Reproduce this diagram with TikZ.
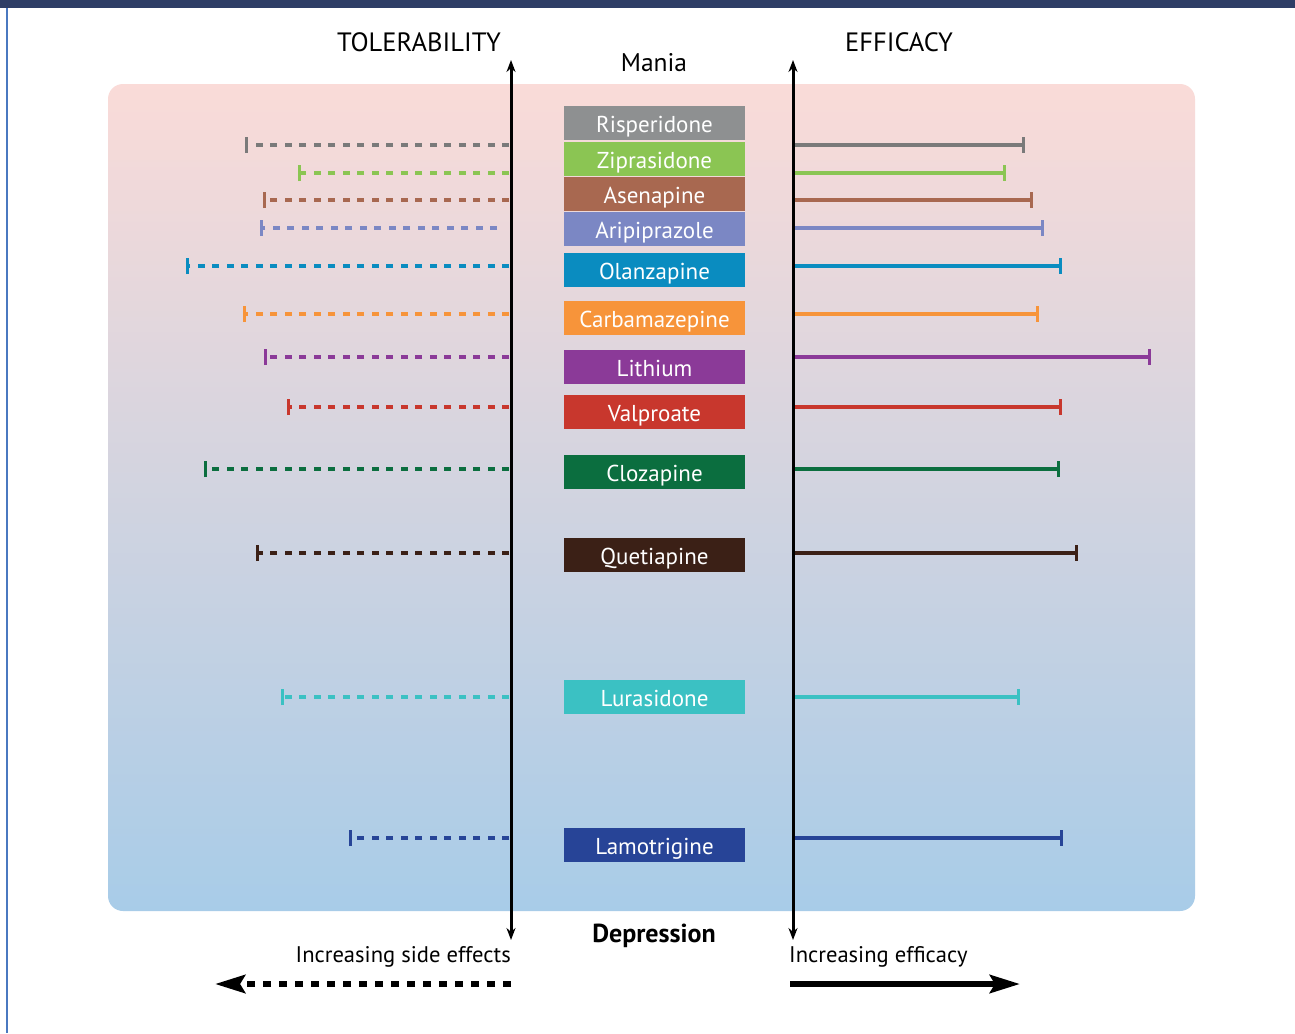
\documentclass[tikz,border=0pt]{standalone}
\usepackage{fontspec}
\setmainfont{PT Sans}
\usetikzlibrary{arrows.meta}
\definecolor{navy}{HTML}{2E3E66}
\definecolor{frameblue}{HTML}{4A78C0}
\definecolor{bgtop}{HTML}{FADBD8}
\definecolor{bgbot}{HTML}{A8CCE8}
\definecolor{cRisp}{HTML}{8E9091}
\definecolor{lRisp}{HTML}{7A7A7A}
\definecolor{cZipr}{HTML}{8BC553}
\definecolor{cAsen}{HTML}{A86850}
\definecolor{cArip}{HTML}{7B87C4}
\definecolor{cOlan}{HTML}{0A8CC0}
\definecolor{cCarb}{HTML}{F7943A}
\definecolor{cLith}{HTML}{8B3A98}
\definecolor{cValp}{HTML}{C8372D}
\definecolor{cCloz}{HTML}{0B6E3F}
\definecolor{cQuet}{HTML}{3B2016}
\definecolor{cLura}{HTML}{3BC1C3}
\definecolor{cLamo}{HTML}{274497}
\begin{document}
\begin{tikzpicture}[x=1pt,y=-1pt,
  drug/.style={minimum width=181pt, minimum height=34pt, inner sep=0pt, text height=22pt, text depth=4pt, text=white, font=\fontsize{23}{23}\selectfont},
  tol/.style={line width=3.5pt, dash pattern=on 7pt off 7.5pt, -{Bar[width=16pt,line width=3pt]}},
  eff/.style={line width=3.5pt, -{Bar[width=16pt,line width=3pt]}},
  axisline/.style={line width=3pt, {Stealth[length=12pt,width=9pt]}-{Stealth[length=12pt,width=9pt]}},
  head/.style={font=\fontsize{26.5}{26.5}\selectfont},
  note/.style={font=\fontsize{22.6}{22.6}\selectfont}]
\useasboundingbox (0,0) rectangle (1295,1033);
\fill[white] (0,0) rectangle (1295,1033);
\fill[navy] (0,0) rectangle (1295,8);
\draw[frameblue, line width=2pt] (7,8) -- (7,1033);
\shade[top color=bgtop, bottom color=bgbot, rounded corners=15pt] (108,84) rectangle (1195,911);

% axes
\coordinate (tolTop) at (511,60);
\coordinate (tolBot) at (511,940);
\coordinate (effTop) at (793,60);
\coordinate (effBot) at (793,940);
\draw[axisline] (tolTop) -- (tolBot);
\draw[axisline] (effTop) -- (effBot);

% titles
\node[head] (tolerability) at (419,42) {TOLERABILITY};
\node[head] (efficacy) at (899,42) {EFFICACY};
\node[head, font=\fontsize{25.5}{25.5}\selectfont] (mania) at (654,63) {Mania};
\node[head, font=\fontsize{26}{26}\selectfont\bfseries] (depression) at (654,936) {Depression};

% drug boxes
\node[drug, fill=cRisp] (risp) at (654.5,123) {Risperidone};
\node[drug, fill=cZipr] (zipr) at (654.5,159) {Ziprasidone};
\node[drug, fill=cAsen] (asen) at (654.5,194) {Asenapine};
\node[drug, fill=cArip] (arip) at (654.5,229) {Aripiprazole};
\node[drug, fill=cOlan] (olan) at (654.5,270) {Olanzapine};
\node[drug, fill=cCarb] (carb) at (654.5,318) {Carbamazepine};
\node[drug, fill=cLith] (lith) at (654.5,367) {Lithium};
\node[drug, fill=cValp] (valp) at (654.5,412) {Valproate};
\node[drug, fill=cCloz] (cloz) at (654.5,472) {Clozapine};
\node[drug, fill=cQuet] (quet) at (654.5,555) {Quetiapine};
\node[drug, fill=cLura] (lura) at (654.5,697) {Lurasidone};
\node[drug, fill=cLamo] (lamo) at (654.5,845) {Lamotrigine};

% bars
\foreach \n/\y/\l/\a/\r/\c in {
  Risp/145/245/509/1025/lRisp,
  Zipr/173/298/509/1006/cZipr,
  Asen/200/263/509/1033/cAsen,
  Arip/228/260/497/1044/cArip,
  Olan/266/186/509/1062/cOlan,
  Carb/314/243/509/1039/cCarb,
  Lith/357/264/509/1151/cLith,
  Valp/407/287/509/1062/cValp,
  Cloz/469/204/509/1060/cCloz,
  Quet/553/256/509/1078/cQuet,
  Lura/697/281/509/1020/cLura,
  Lamo/838/349/509/1063/cLamo}{
  \coordinate (\n L) at (\l,\y);
  \coordinate (\n A) at (\a,\y);
  \coordinate (\n B) at (795,\y);
  \coordinate (\n R) at (\r,\y);
  \draw[tol, draw=\c] (\n A) -- (\n L);
  \draw[eff, draw=\c] (\n B) -- (\n R);
}

% bottom legend
\node[note, anchor=east, inner sep=0pt] (sidefx) at (511,957) {Increasing side effects};
\node[note, anchor=west, inner sep=0pt] (effic) at (789,957) {Increasing efficacy};
\coordinate (dashS) at (511,984);
\coordinate (dashE) at (215,984);
\coordinate (solS) at (790,984);
\coordinate (solE) at (1020,984);
\draw[line width=6pt, dash pattern=on 8pt off 8pt, -{Stealth[length=30pt,width=18pt,inset=5pt]}] (dashS) -- (dashE);
\draw[line width=6pt, -{Stealth[length=30pt,width=18pt,inset=5pt]}] (solS) -- (solE);
\end{tikzpicture}
\end{document}
